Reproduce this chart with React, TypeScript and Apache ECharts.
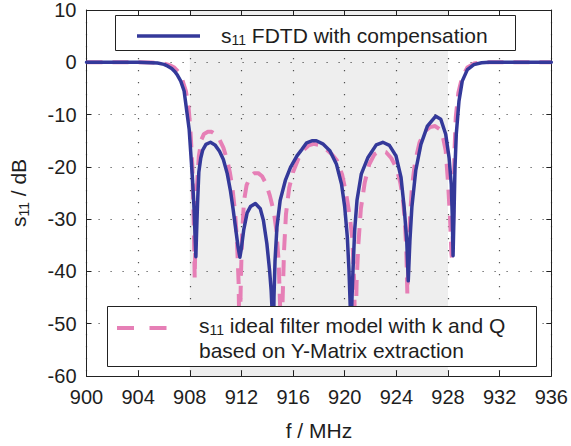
import React, { useEffect, useRef } from 'react';
import * as echarts from 'echarts';

const W = 571;
const H = 446;

// Axis ranges
const X_MIN = 900;
const X_MAX = 936;
const X_STEP = 4;
const Y_MIN = -60;
const Y_MAX = 10;
const Y_STEP = 10;

// Shaded pass band (MHz)
const passband = [908, 928];

// s11 FDTD with compensation
const freqFDTD = [
  900, 902, 904, 905, 905.5, 906, 906.3, 906.6, 906.85, 907.05, 907.3, 907.56, 907.8, 907.95, 908.08, 908.2,
  908.33, 908.42, 908.47, 908.52, 908.6, 908.7, 908.85, 909.0, 909.25, 909.6, 909.95, 910.3, 910.6, 910.9,
  911.15, 911.35, 911.55, 911.75, 911.88, 912.0, 912.18, 912.44, 912.7, 913.08, 913.46, 913.7, 913.97, 914.18,
  914.3, 914.42, 914.47, 914.52, 914.6, 914.75, 915.0, 915.4, 915.8, 916.3, 916.7, 917.05, 917.5, 917.8,
  918.3, 918.85, 919.36, 919.75, 920.0, 920.2, 920.33, 920.43, 920.48, 920.55, 920.64, 920.77, 920.95, 921.28,
  921.8, 922.44, 922.95, 923.46, 923.97, 924.36, 924.6, 924.8, 924.92, 925.05, 925.2, 925.5, 925.9, 926.4,
  927.05, 927.44, 927.82, 928.08, 928.25, 928.33, 928.39, 928.46, 928.54, 928.64, 928.85, 929.1, 929.5, 930.0,
  930.6, 931.2, 932, 934, 936,
];
const s11FDTD = [
  0, 0, 0, -0.1, -0.15, -0.4, -0.75, -1.2, -1.8, -2.5, -3.6, -5.5, -10, -12.8, -17.5, -22,
  -28, -34, -37.2, -33, -27, -21, -18.3, -16.8, -15.7, -15.3, -15.8, -17.0, -18.6, -21.3,
  -24.6, -28, -31.8, -35.5, -37.3, -35.5, -32, -28.8, -27.6, -27.0, -28, -30.2, -34.7, -39.8,
  -43.6, -50, -55, -45, -38, -31.5, -26.4, -22.6, -20.1, -17.9, -16.6, -15.4, -15.0, -15.0,
  -15.6, -16.9, -19.5, -23.3, -27.7, -33.4, -39.8, -47, -55, -46, -39.8, -32.1, -26.4, -21.4,
  -18.2, -15.8, -15.3, -15.9, -17.9, -22, -27.7, -34, -41.8, -34, -27.7, -20.7, -15.7, -12.2,
  -10.3, -10.9, -13.75, -18.2, -23.3, -29.6, -37.0, -29.6, -20.1, -13.75, -7.4, -3.6, -1.4, -0.45,
  -0.1, 0, 0, 0, 0,
];

// s11 ideal filter model with k and Q based on Y-Matrix extraction
const freqModel = [
  900, 902, 904, 905, 905.5, 906, 906.5, 906.8, 907.1, 907.4, 907.7, 907.9, 908.05, 908.2, 908.3, 908.38,
  908.46, 908.55, 908.7, 908.9, 909.1, 909.4, 909.7, 910.0, 910.3, 910.6, 910.9, 911.1, 911.3, 911.5,
  911.65, 911.78, 911.86, 911.95, 912.05, 912.2, 912.4, 912.7, 913.0, 913.3, 913.6, 913.9, 914.2, 914.5,
  914.7, 914.88, 915.0, 915.08, 915.17, 915.3, 915.45, 915.7, 916.0, 916.4, 916.8, 917.2, 917.6, 918.0,
  918.5, 919.0, 919.4, 919.8, 920.1, 920.4, 920.6, 920.73, 920.82, 920.92, 921.05, 921.25, 921.55, 921.9,
  922.3, 922.8, 923.2, 923.6, 924.0, 924.3, 924.5, 924.65, 924.77, 924.85, 924.95, 925.05, 925.2, 925.45,
  925.8, 926.2, 926.6, 927.0, 927.35, 927.6, 927.82, 928.0, 928.15, 928.26, 928.32, 928.42, 928.5, 928.6,
  928.8, 929.1, 929.5, 930.0, 930.5, 931, 932, 934, 936,
];
const s11Model = [
  0, 0, 0, -0.05, -0.1, -0.25, -0.6, -1.0, -1.8, -3.2, -5.5, -8.5, -13, -20, -30, -41.3,
  -31, -24, -18, -14.8, -13.7, -13.3, -13.3, -13.8, -14.8, -16.3, -18.8, -21, -24, -28.5,
  -34, -42, -55, -42, -33, -26.5, -23.5, -21.8, -21.2, -21.2, -21.8, -23.2, -25.5, -28.5,
  -32, -38, -47, -55, -47, -36, -29, -24, -21, -18.5, -16.8, -15.9, -15.6, -15.8,
  -16.5, -17.6, -18.8, -21.5, -25, -29.6, -34, -42, -55, -42, -35, -28, -23, -19.5,
  -17.6, -16.9, -17.2, -18.3, -20.2, -23, -26, -30, -36, -44.3, -37, -30, -24, -19,
  -15.3, -13.2, -12.4, -12.2, -12.8, -14.2, -16.9, -23, -29.6, -36.5, -37.8, -28, -17, -10.5,
  -5.8, -2.8, -1.0, -0.25, -0.05, 0, 0, 0, 0,
];

const FONT = "'Liberation Sans', Arial, Helvetica, sans-serif";
const TEXT = '#1e1e1e';
const AXIS = '#222';
const BLUE = '#34399a';
const PINK = '#e67fb6';

export default function App() {
  const ref = useRef<HTMLDivElement>(null);

  useEffect(() => {
    if (!ref.current) return;
    const chart = echarts.init(ref.current, null, { renderer: 'svg' });

    const fdtdData = freqFDTD.map((f, i) => [f, s11FDTD[i]]);
    const modelData = freqModel.map((f, i) => [f, s11Model[i]]);

    const richName = {
      m: { fontSize: 21, fontFamily: FONT, color: TEXT, lineHeight: 24 },
      sub: { fontSize: 14, fontFamily: FONT, color: TEXT, lineHeight: 10, verticalAlign: 'bottom' },
    };
    const richGraphic = {
      m: { fontSize: 21, fontFamily: FONT, fill: TEXT, lineHeight: 24 },
      sub: { fontSize: 14, fontFamily: FONT, fill: TEXT, lineHeight: 10, verticalAlign: 'bottom' },
    };

    const gridLine = { show: true, lineStyle: { color: '#555', width: 1.2, type: [1.2, 10.8] } };

    const option: any = {
      animation: false,
      backgroundColor: '#fff',
      grid: { left: 85, right: 18, top: 9, bottom: 69, containLabel: false },
      xAxis: [
        {
          type: 'value',
          position: 'bottom',
          min: X_MIN,
          max: X_MAX,
          interval: X_STEP,
          axisLine: { show: true, onZero: false, lineStyle: { color: AXIS, width: 1 } },
          axisTick: { show: true, inside: true, length: 5, lineStyle: { color: AXIS } },
          axisLabel: { color: TEXT, fontSize: 20, fontFamily: FONT, margin: 11 },
          splitLine: gridLine,
          name: 'f / MHz',
          nameLocation: 'middle',
          nameGap: 44,
          nameTextStyle: { color: TEXT, fontSize: 21, fontFamily: FONT },
        },
        {
          type: 'value',
          position: 'top',
          min: X_MIN,
          max: X_MAX,
          interval: X_STEP,
          axisLine: { show: true, onZero: false, lineStyle: { color: AXIS, width: 1 } },
          axisTick: { show: true, inside: true, length: 5, lineStyle: { color: AXIS } },
          axisLabel: { show: false },
          splitLine: { show: false },
        },
      ],
      yAxis: [
        {
          type: 'value',
          position: 'left',
          min: Y_MIN,
          max: Y_MAX,
          interval: Y_STEP,
          axisLine: { show: true, onZero: false, lineStyle: { color: AXIS, width: 1 } },
          axisTick: { show: true, inside: true, length: 5, lineStyle: { color: AXIS } },
          axisLabel: { color: TEXT, fontSize: 20, fontFamily: FONT, margin: 10 },
          splitLine: gridLine,
          name: '{m|s}{sub|11}{m| / dB}',
          nameLocation: 'middle',
          nameGap: 56,
          nameTextStyle: { color: TEXT, fontSize: 21, fontFamily: FONT, rich: richName },
        },
        {
          type: 'value',
          position: 'right',
          min: Y_MIN,
          max: Y_MAX,
          interval: Y_STEP,
          axisLine: { show: true, onZero: false, lineStyle: { color: AXIS, width: 1 } },
          axisTick: { show: true, inside: true, length: 5, lineStyle: { color: AXIS } },
          axisLabel: { show: false },
          splitLine: { show: false },
        },
      ],
      series: [
        {
          type: 'line',
          name: 'model',
          xAxisIndex: 0,
          yAxisIndex: 0,
          data: modelData,
          symbol: 'none',
          showSymbol: false,
          smooth: false,
          z: 2,
          lineStyle: { color: PINK, width: 4, type: [16, 10], cap: 'butt', join: 'round' },
          markArea: {
            silent: true,
            itemStyle: { color: 'rgba(0,0,0,0.065)' },
            data: [[{ xAxis: passband[0] }, { xAxis: passband[1] }]],
          },
        },
        {
          type: 'line',
          name: 'fdtd',
          xAxisIndex: 0,
          yAxisIndex: 0,
          data: fdtdData,
          symbol: 'none',
          showSymbol: false,
          smooth: false,
          z: 3,
          lineStyle: { color: BLUE, width: 3.5, cap: 'round', join: 'round' },
        },
      ],
      graphic: [
        {
          type: 'rect',
          z: 100,
          shape: { x: 115.5, y: 15.5, width: 400, height: 35 },
          style: { fill: '#fff', stroke: AXIS, lineWidth: 1 },
        },
        {
          type: 'line',
          z: 101,
          shape: { x1: 137, y1: 36, x2: 200, y2: 36 },
          style: { stroke: BLUE, lineWidth: 3.5 },
        },
        {
          type: 'text',
          z: 101,
          x: 221,
          y: 35,
          style: {
            text: '{m|s}{sub|11}{m| FDTD with compensation}',
            rich: richGraphic,
            fill: TEXT,
            fontSize: 21,
            fontFamily: FONT,
            align: 'left',
            verticalAlign: 'middle',
          },
        },
        {
          type: 'rect',
          z: 100,
          shape: { x: 107.5, y: 306.5, width: 429, height: 60 },
          style: { fill: '#fff', stroke: AXIS, lineWidth: 1 },
        },
        {
          type: 'line',
          z: 101,
          shape: { x1: 117, y1: 328, x2: 167, y2: 328 },
          style: { stroke: PINK, lineWidth: 4, lineDash: [17, 15.5] },
        },
        {
          type: 'text',
          z: 101,
          x: 199,
          y: 325,
          style: {
            text: '{m|s}{sub|11}{m| ideal filter model with k and Q}',
            rich: richGraphic,
            fill: TEXT,
            fontSize: 21,
            fontFamily: FONT,
            align: 'left',
            verticalAlign: 'middle',
          },
        },
        {
          type: 'text',
          z: 101,
          x: 199,
          y: 350,
          style: {
            text: 'based on Y-Matrix extraction',
            fill: TEXT,
            fontSize: 21,
            fontFamily: FONT,
            align: 'left',
            verticalAlign: 'middle',
          },
        },
      ],
    };

    chart.setOption(option);
    return () => chart.dispose();
  }, []);

  return (
    <div
      ref={ref}
      style={{ position: 'fixed', left: 0, top: 0, width: W, height: H, background: '#fff' }}
    />
  );
}
